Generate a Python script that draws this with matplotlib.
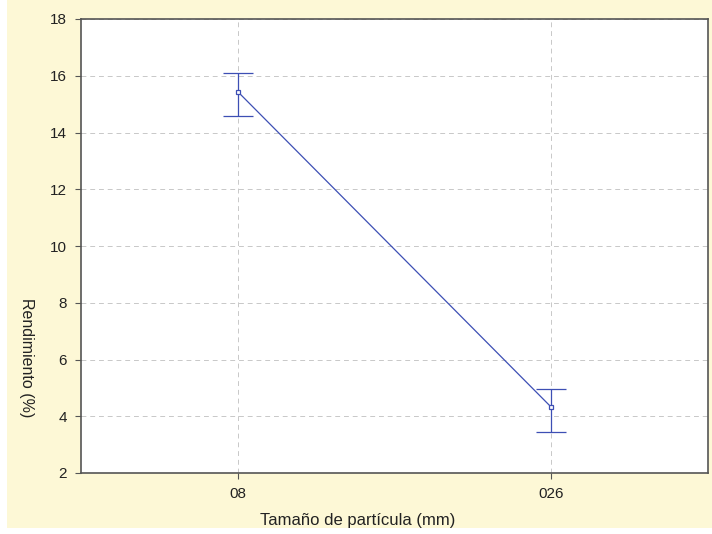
import matplotlib
matplotlib.use("Agg")
import matplotlib.pyplot as plt
from matplotlib.patches import Rectangle
import numpy as np

plt.rcParams['font.family'] = ['Liberation Sans', 'DejaVu Sans']

categories = ["08", "026"]
means = [15.44, 4.32]
upper = [16.11, 4.97]
lower = [14.58, 3.46]
yticks = [2, 4, 6, 8, 10, 12, 14, 16, 18]

W, H = 712, 534
fig = plt.figure(figsize=(W / 100, H / 100), dpi=100)
fig.patch.set_facecolor('white')
bg = Rectangle((7 / W, 1 - 528 / H), 1, 528 / H, transform=fig.transFigure,
               facecolor='#fdf8d6', edgecolor='none', zorder=-10)
fig.patches.append(bg)

ax = fig.add_axes([81 / W, 1 - 473 / H, (708 - 81) / W, (473 - 19) / H])
ax.set_zorder(1)
ax.set_facecolor('white')

x = np.arange(len(categories))
m = np.array(means)
yerr = np.array([m - np.array(lower), np.array(upper) - m])
color = '#3d4fb4'
ax.errorbar(x, m, yerr=yerr, color=color, lw=0.9, capsize=11, capthick=1.0,
            marker='s', markersize=3.5, markerfacecolor='white', markeredgecolor=color,
            markeredgewidth=0.9, zorder=3)

ax.set_xlim(-0.5, 1.5)
ax.set_ylim(2, 18)
ax.set_xticks(x)
ax.set_xticklabels(categories)
ax.set_yticks(yticks)
ax.set_yticklabels([str(v) for v in yticks])
ax.grid(True, color='#c8c8c8', linestyle=(0, (5, 4)), lw=0.7)
ax.set_axisbelow(True)
for s in ax.spines.values():
    s.set_color('#555555')
    s.set_linewidth(1.2)
ax.tick_params(axis='both', labelsize=11, length=4, width=0.8, color='#555555', pad=6,
               labelcolor='#222222')

fig.text(358 / W, 1 - 521 / H, "Tamaño de partícula (mm)", ha='center', va='center',
         fontsize=12, color='#222222')
fig.text(26 / W, 1 - 358 / H, "Rendimiento (%)", ha='center', va='center',
         rotation=-90, fontsize=11.5, color='#222222')

fig.savefig("out.png", dpi=100)
